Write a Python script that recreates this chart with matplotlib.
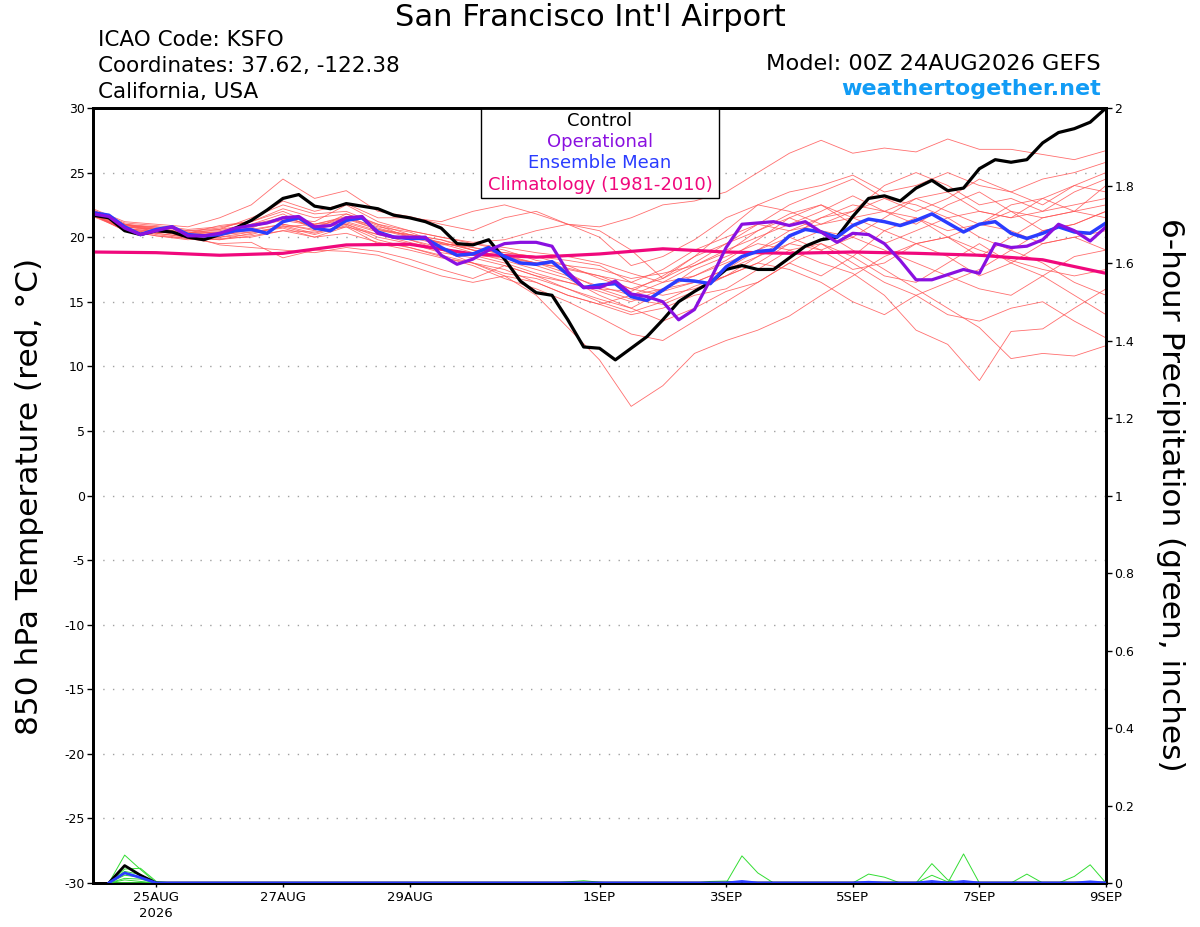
import numpy as np
import matplotlib
matplotlib.use("Agg")
import matplotlib.pyplot as plt
from matplotlib.patches import Rectangle

plt.rcParams['font.family'] = ['DejaVu Sans']
plt.rcParams['axes.unicode_minus'] = False

# ---------------- data ----------------
# forecast hours (6-hourly from 00Z 24AUG2026 to 00Z 9SEP2026)
hours6 = np.arange(0, 385, 6)
hours12 = np.arange(0, 385, 12)
hours24 = np.arange(0, 385, 24)

control = [21.7, 21.5, 20.5, 20.2, 20.5, 20.4, 20.0, 19.8, 20.2, 20.7,
           21.3, 22.1, 23.0, 23.3, 22.4, 22.2, 22.6, 22.4, 22.2, 21.7,
           21.5, 21.2, 20.7, 19.5, 19.4, 19.8, 18.3, 16.6, 15.7, 15.5,
           13.6, 11.5, 11.4, 10.5, 11.4, 12.3, 13.6, 15.0, 15.8, 16.5,
           17.5, 17.8, 17.5, 17.5, 18.4, 19.3, 19.8, 20.0, 21.6, 23.0,
           23.2, 22.8, 23.8, 24.4, 23.6, 23.8, 25.3, 26.0, 25.8, 26.0,
           27.3, 28.1, 28.4, 28.9, 30.0]

operational = [21.8, 21.6, 20.7, 20.2, 20.5, 20.8, 20.1, 20.1, 20.3, 20.7,
               20.9, 21.1, 21.5, 21.6, 20.8, 20.9, 21.5, 21.6, 20.3, 20.0,
               20.0, 20.0, 18.6, 17.9, 18.3, 19.0, 19.5, 19.6, 19.6, 19.3,
               17.3, 16.1, 16.1, 16.6, 15.6, 15.4, 15.0, 13.6, 14.4, 16.7,
               19.2, 21.0, 21.1, 21.2, 20.9, 21.2, 20.4, 19.6, 20.3, 20.2,
               19.5, 18.2, 16.7, 16.7, 17.1, 17.5, 17.2, 19.5, 19.2, 19.3,
               19.8, 21.0, 20.5, 19.7, 20.8]

ens_mean = [21.9, 21.7, 20.8, 20.2, 20.6, 20.8, 20.2, 20.1, 20.2, 20.5,
            20.6, 20.3, 21.2, 21.5, 20.7, 20.5, 21.3, 21.5, 20.4, 20.0,
            19.9, 19.9, 19.2, 18.6, 18.7, 19.2, 18.5, 18.0, 17.9, 18.1,
            17.1, 16.1, 16.3, 16.4, 15.4, 15.1, 15.9, 16.7, 16.6, 16.4,
            17.7, 18.5, 18.9, 19.0, 20.1, 20.6, 20.4, 20.0, 20.9, 21.4,
            21.2, 20.9, 21.3, 21.8, 21.1, 20.4, 21.0, 21.2, 20.3, 19.9,
            20.3, 20.8, 20.4, 20.3, 21.1]

climatology = [18.85, 18.8, 18.6, 18.75, 19.4, 19.45, 18.7, 18.45, 18.7,
               19.1, 18.85, 18.75, 18.85, 18.75, 18.6, 18.25, 17.2]

# ensemble members (12-hourly)
members = [
    [22.0, 20.9, 20.8, 20.5, 20.6, 21.5, 22.5, 21.8, 22.0, 21.0, 20.5, 20.0, 19.6, 19.8, 20.5, 21.0, 20.8,
     21.5, 22.5, 22.8, 23.5, 25.0, 26.5, 27.5, 26.5, 26.9, 26.6, 27.6, 26.8, 26.8, 26.4, 26.0, 26.7],
    [21.7, 20.6, 20.3, 20.0, 19.8, 20.3, 20.8, 20.2, 20.9, 19.8, 19.2, 18.6, 18.0, 17.0, 15.5, 13.0, 10.5,
     6.9, 8.5, 11.0, 12.0, 12.8, 13.9, 15.5, 17.0, 18.5, 19.5, 20.0, 19.0, 18.2, 17.5, 17.0, 17.5],
    [22.1, 21.0, 20.4, 20.3, 20.9, 21.2, 22.0, 21.0, 21.5, 20.8, 20.4, 19.5, 18.8, 18.2, 17.5, 16.8, 15.5,
     14.5, 15.8, 17.5, 18.5, 19.5, 19.0, 18.0, 17.2, 15.5, 12.8, 11.7, 8.9, 12.7, 12.9, 14.5, 16.0],
    [21.8, 20.5, 20.1, 19.8, 20.0, 20.2, 20.9, 20.3, 21.0, 20.0, 19.5, 18.8, 18.4, 17.8, 17.0, 16.5, 15.8,
     15.0, 16.0, 17.0, 18.2, 19.8, 21.5, 20.5, 19.0, 17.5, 16.0, 14.5, 13.0, 10.6, 11.0, 10.8, 11.6],
    [22.2, 21.2, 21.0, 20.8, 21.5, 22.5, 24.5, 23.0, 23.6, 22.0, 21.6, 21.0, 20.5, 21.5, 22.0, 21.0, 20.5,
     19.0, 16.8, 18.5, 20.5, 22.5, 23.5, 24.0, 24.8, 23.5, 24.0, 25.0, 24.0, 23.5, 24.5, 25.0, 25.8],
    [21.9, 21.0, 20.6, 20.0, 20.0, 20.4, 20.8, 21.0, 21.2, 20.5, 20.2, 19.8, 19.0, 18.4, 18.0, 17.5, 17.0,
     16.0, 15.5, 16.0, 17.0, 18.5, 20.0, 21.5, 22.0, 23.0, 22.5, 21.5, 22.0, 21.5, 22.0, 22.5, 23.0],
    [21.6, 20.6, 20.5, 20.1, 19.4, 19.2, 19.0, 18.8, 19.2, 18.9, 18.3, 17.5, 16.8, 17.8, 17.0, 16.0, 15.2,
     14.5, 13.5, 14.5, 15.8, 16.5, 18.0, 17.0, 18.5, 20.5, 21.5, 20.0, 18.5, 20.0, 21.5, 22.0, 21.5],
    [22.0, 20.9, 20.7, 20.4, 20.5, 21.0, 21.8, 20.6, 21.8, 20.9, 20.0, 19.4, 19.5, 19.0, 18.2, 17.8, 17.5,
     16.8, 17.2, 17.8, 19.0, 20.0, 21.0, 22.0, 23.2, 22.0, 21.0, 22.5, 23.5, 22.0, 20.5, 21.0, 22.0],
    [21.8, 20.7, 20.4, 20.2, 20.2, 20.8, 21.3, 20.9, 21.0, 20.2, 19.8, 19.0, 18.0, 17.5, 16.5, 15.5, 14.8,
     14.0, 14.5, 15.5, 16.0, 17.5, 19.0, 19.5, 18.5, 17.0, 16.5, 18.0, 19.5, 18.0, 17.0, 15.5, 14.0],
    [21.9, 20.8, 20.6, 20.3, 20.4, 20.5, 21.0, 20.5, 21.4, 20.6, 20.0, 19.6, 19.0, 18.8, 18.5, 18.2, 17.8,
     16.5, 15.8, 16.5, 17.5, 18.5, 19.5, 19.0, 20.0, 21.5, 23.0, 22.0, 21.0, 22.5, 23.0, 22.0, 24.0],
    [21.7, 20.7, 20.2, 19.9, 19.8, 20.1, 20.5, 20.4, 20.8, 19.5, 19.0, 18.4, 18.0, 17.2, 16.8, 16.0, 15.0,
     14.2, 15.0, 16.2, 17.0, 18.0, 17.5, 16.5, 15.0, 14.0, 15.5, 16.5, 17.5, 19.0, 20.5, 21.0, 22.0],
    [22.1, 21.1, 20.9, 20.6, 20.8, 21.2, 22.2, 21.5, 21.8, 21.0, 20.2, 19.8, 19.2, 18.6, 18.0, 17.2, 16.0,
     15.8, 17.0, 18.5, 19.5, 20.5, 21.5, 22.5, 21.0, 19.5, 20.5, 21.5, 20.0, 19.0, 18.0, 16.5, 15.5],
    [21.8, 20.8, 20.5, 20.0, 20.2, 20.4, 20.7, 20.0, 20.8, 20.2, 19.6, 19.0, 18.6, 18.4, 17.8, 17.0, 16.2,
     15.5, 16.5, 17.8, 18.8, 20.5, 21.8, 22.5, 21.5, 20.5, 19.5, 20.0, 21.0, 20.5, 19.5, 20.0, 20.5],
    [22.0, 21.0, 20.7, 20.3, 20.6, 21.0, 21.5, 21.2, 22.5, 21.2, 20.5, 20.0, 19.5, 19.2, 18.8, 18.5, 18.0,
     17.2, 16.5, 17.0, 18.0, 19.0, 20.5, 21.0, 22.0, 24.0, 25.0, 24.0, 22.5, 23.0, 22.0, 23.5, 24.5],
    [21.7, 20.5, 20.3, 20.0, 19.9, 20.0, 20.5, 20.0, 20.3, 19.6, 19.2, 18.5, 17.8, 16.8, 16.0, 15.0, 13.8,
     12.5, 12.0, 13.5, 15.0, 16.5, 18.0, 19.5, 18.0, 16.5, 15.5, 14.0, 13.5, 14.5, 15.0, 13.5, 12.2],
    [21.9, 20.9, 20.6, 20.2, 20.3, 20.7, 21.6, 20.8, 21.5, 20.6, 20.2, 19.6, 19.0, 18.5, 18.0, 17.6, 17.0,
     16.5, 17.5, 19.0, 20.0, 21.0, 20.5, 21.5, 22.5, 22.0, 23.0, 23.5, 22.0, 21.5, 23.0, 24.0, 23.5],
    [21.8, 20.6, 20.5, 20.4, 20.1, 20.6, 21.0, 20.6, 21.1, 20.4, 19.8, 19.2, 18.6, 18.0, 17.2, 16.5, 16.0,
     15.2, 14.8, 15.8, 17.0, 18.0, 19.5, 20.5, 20.0, 19.0, 18.0, 17.0, 16.0, 15.5, 17.0, 18.5, 19.0],
    [22.0, 21.0, 20.8, 20.5, 20.7, 21.3, 22.8, 22.0, 22.6, 21.5, 21.5, 21.2, 22.0, 22.5, 21.8, 21.0, 20.0,
     17.8, 18.5, 19.8, 21.5, 22.5, 22.0, 21.0, 21.5, 22.0, 21.5, 20.5, 21.0, 22.0, 21.5, 22.0, 22.5],
    [21.7, 20.6, 20.1, 19.9, 19.5, 19.6, 18.4, 19.0, 18.9, 18.6, 17.8, 17.0, 16.5, 17.0, 16.5, 15.5, 14.8,
     15.5, 16.0, 16.5, 17.5, 19.0, 20.0, 19.0, 17.5, 18.0, 19.5, 18.5, 17.0, 18.0, 19.5, 20.0, 19.0],
    [21.9, 20.8, 20.6, 20.3, 20.4, 20.9, 21.4, 21.0, 21.6, 20.7, 20.1, 19.5, 19.2, 18.8, 18.5, 17.8, 16.8,
     16.0, 16.8, 18.0, 19.5, 21.0, 22.5, 23.5, 24.5, 23.0, 22.0, 23.0, 24.5, 23.5, 22.5, 24.0, 25.0],
]

# 6-hour precipitation (inches): {6-hourly step index: value}, other steps are 0
precip_control = {1: 0.0, 2: 0.045, 3: 0.02, 4: 0.0}
precip_mean = {1: 0.0, 2: 0.026, 3: 0.014, 4: 0.0, 41: 0.004, 49: 0.002, 53: 0.004, 55: 0.004, 63: 0.003}
precip_members = [
    {1: 0.0, 2: 0.072, 3: 0.035, 4: 0.0, 40: 0.0, 41: 0.070, 42: 0.026, 43: 0.0},
    {1: 0.0, 2: 0.036, 3: 0.038, 4: 0.004, 48: 0.0, 49: 0.023, 50: 0.015, 51: 0.0},
    {1: 0.0, 2: 0.020, 3: 0.015, 4: 0.0, 52: 0.0, 53: 0.050, 54: 0.008, 55: 0.0},
    {1: 0.0, 2: 0.012, 3: 0.010, 4: 0.0, 54: 0.0, 55: 0.075, 56: 0.0},
    {1: 0.0, 2: 0.008, 3: 0.004, 4: 0.0, 52: 0.0, 53: 0.020, 54: 0.003, 58: 0.0, 59: 0.023, 60: 0.0},
    {61: 0.0, 62: 0.017, 63: 0.047, 64: 0.0},
    {1: 0.0, 2: 0.030, 3: 0.022, 4: 0.0, 39: 0.004, 40: 0.005},
    {30: 0.003, 31: 0.006, 32: 0.002},
]

xtick_hours = [24, 72, 120, 192, 240, 288, 336, 384]
xtick_labels = ["25AUG\n2026", "27AUG", "29AUG", "1SEP", "3SEP", "5SEP", "7SEP", "9SEP"]
temp_ticks = list(range(-30, 31, 5))
precip_ticks = [0, 0.2, 0.4, 0.6, 0.8, 1.0, 1.2, 1.4, 1.6, 1.8, 2.0]
precip_tick_labels = ["0", "0.2", "0.4", "0.6", "0.8", "1", "1.2", "1.4", "1.6", "1.8", "2"]

legend_entries = ["Control", "Operational", "Ensemble Mean", "Climatology (1981-2010)"]

# ---------------- styles ----------------
C_MEMBER = "#ff5555"
C_CONTROL = "black"
C_OPER = "#8a10e0"
C_MEAN = "#2a3cff"
C_CLIM = "#f0087c"
C_PRECIP = "#33dd33"
C_SITE = "#129cf5"

W, H = 1200, 927
fig = plt.figure(figsize=(W / 100, H / 100), dpi=100)
L, R, T, B = 93, 1106, 108, 883
ax = fig.add_axes([L / W, 1 - B / H, (R - L) / W, (B - T) / H])
ax.set_xlim(0, 384)
ax.set_ylim(-30, 30)

ax2 = ax.twinx()
ax2.set_ylim(0, 2)


def full_series(sparse):
    arr = np.zeros(len(hours6))
    for k, v in sparse.items():
        arr[k] = v
    return arr


# members
for m in members:
    ax.plot(hours12, m, color=C_MEMBER, lw=0.6, alpha=0.85, zorder=2)

ax.plot(hours24, climatology, color=C_CLIM, lw=2.3, zorder=4, solid_capstyle='round')
ax.plot(hours6, control, color=C_CONTROL, lw=2.3, zorder=5)
ax.plot(hours6, ens_mean, color=C_MEAN, lw=2.5, zorder=6)
ax.plot(hours6, operational, color=C_OPER, lw=2.3, zorder=7)

# precipitation (right axis)
for p in precip_members:
    ax2.plot(hours6[1:], full_series(p)[1:], color=C_PRECIP, lw=0.7, zorder=3)
ax2.plot(hours6[1:], full_series(precip_control)[1:], color=C_CONTROL, lw=2.0, zorder=5)
ax2.plot(hours6[1:], full_series(precip_mean)[1:], color=C_MEAN, lw=2.0, zorder=6)

# grid
for t in temp_ticks[1:-1]:
    ax.axhline(t, color="#a0a0a0", lw=1.0, ls=(0, (1, 6)), zorder=1)

# ticks
ax.set_yticks(temp_ticks)
ax.set_yticklabels([str(t) for t in temp_ticks], fontsize=9)
ax2.set_yticks(precip_ticks)
ax2.set_yticklabels(precip_tick_labels, fontsize=9)
ax.set_xticks(xtick_hours)
ax.set_xticklabels(xtick_labels, fontsize=9.5, linespacing=1.25)
ax.tick_params(axis='y', direction='out', length=4, width=1, pad=2)
ax2.tick_params(axis='y', direction='out', length=4, width=1, pad=2)
ax.tick_params(axis='x', direction='out', length=3, width=1, pad=3)

for a in (ax, ax2):
    for s in a.spines.values():
        s.set_linewidth(2.0)
        s.set_color("black")

# axis labels
fig.text(30 / W, 1 - 496 / H, "850 hPa Temperature (red, \u00b0C)", rotation=90,
         ha='center', va='center', fontsize=22.5)
fig.text(1171 / W, 1 - 495 / H, "6-hour Precipitation (green, inches)", rotation=-90,
         ha='center', va='center', fontsize=22.5)

# header texts
fig.text(590 / W, 1 - 18 / H, "San Francisco Int'l Airport", ha='center', va='center', fontsize=22)
fig.text(98 / W, 1 - 40 / H, "ICAO Code: KSFO", ha='left', va='center', fontsize=15.5)
fig.text(98 / W, 1 - 66 / H, "Coordinates: 37.62, -122.38", ha='left', va='center', fontsize=15.5)
fig.text(98 / W, 1 - 92 / H, "California, USA", ha='left', va='center', fontsize=15.5)
fig.text(1101 / W, 1 - 64 / H, "Model: 00Z 24AUG2026 GEFS", ha='right', va='center', fontsize=16.2)
fig.text(1101 / W, 1 - 89 / H, "weathertogether.net", ha='right', va='center', fontsize=16,
         fontweight='bold', color=C_SITE)

# legend box
bx0 = (481 - L) / (R - L)
bx1 = (719 - L) / (R - L)
by0 = (B - 198) / (B - T)
ax.add_patch(Rectangle((bx0, by0), bx1 - bx0, 1 - by0, transform=ax.transAxes,
                       facecolor='white', edgecolor='black', lw=1.0, zorder=10))
leg_colors = [C_CONTROL, C_OPER, C_MEAN, C_CLIM]
leg_y = [121, 142, 163, 185]
for txt, col, yy in zip(legend_entries, leg_colors, leg_y):
    ax.text((bx0 + bx1) / 2, (B - yy) / (B - T), txt, color=col, ha='center', va='center',
            fontsize=13, transform=ax.transAxes, zorder=11)

fig.savefig("out.png", dpi=100)
